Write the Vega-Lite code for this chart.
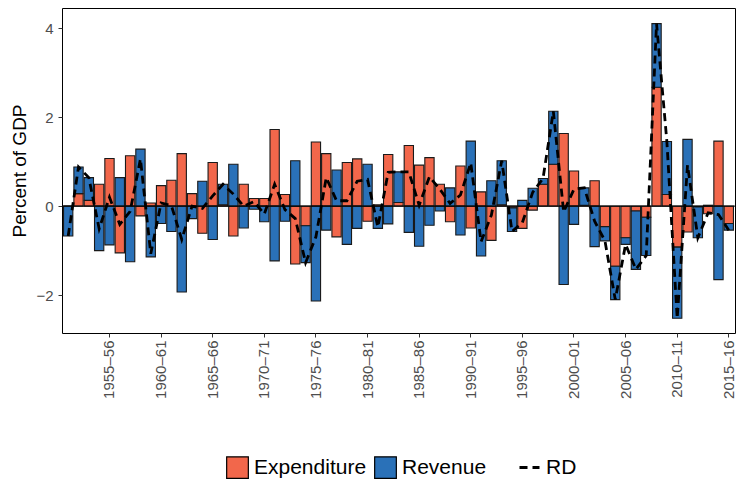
{
  "$schema": "https://vega.github.io/schema/vega-lite/v6.json",
  "width": 673,
  "height": 325,
  "autosize": {"type": "none"},
  "padding": {"left": 62, "top": 8, "right": 8, "bottom": 152},
  "config": {
    "font": "Liberation Sans",
    "view": {"stroke": "black", "strokeWidth": 1},
    "axis": {"grid": false, "domain": false, "tickColor": "#333333", "tickSize": 4, "labelColor": "#4D4D4D", "labelFontSize": 15, "titleColor": "black", "titleFontSize": 19, "titleFontWeight": "normal"}
  },
  "datasets": {
    "bars": [
      {"year": "1951–52", "type": "Expenditure", "value": 0.0}, {"year": "1951–52", "type": "Revenue", "value": -0.67},
      {"year": "1952–53", "type": "Expenditure", "value": 0.28}, {"year": "1952–53", "type": "Revenue", "value": 0.60},
      {"year": "1953–54", "type": "Expenditure", "value": 0.13}, {"year": "1953–54", "type": "Revenue", "value": 0.51},
      {"year": "1954–55", "type": "Expenditure", "value": 0.49}, {"year": "1954–55", "type": "Revenue", "value": -1.00},
      {"year": "1955–56", "type": "Expenditure", "value": 1.07}, {"year": "1955–56", "type": "Revenue", "value": -0.87},
      {"year": "1956–57", "type": "Expenditure", "value": -1.05}, {"year": "1956–57", "type": "Revenue", "value": 0.64},
      {"year": "1957–58", "type": "Expenditure", "value": 1.13}, {"year": "1957–58", "type": "Revenue", "value": -1.25},
      {"year": "1958–59", "type": "Expenditure", "value": -0.22}, {"year": "1958–59", "type": "Revenue", "value": 1.28},
      {"year": "1959–60", "type": "Expenditure", "value": 0.07}, {"year": "1959–60", "type": "Revenue", "value": -1.14},
      {"year": "1960–61", "type": "Expenditure", "value": 0.46}, {"year": "1960–61", "type": "Revenue", "value": -0.39},
      {"year": "1961–62", "type": "Expenditure", "value": 0.58}, {"year": "1961–62", "type": "Revenue", "value": -0.57},
      {"year": "1962–63", "type": "Expenditure", "value": 1.18}, {"year": "1962–63", "type": "Revenue", "value": -1.93},
      {"year": "1963–64", "type": "Expenditure", "value": 0.28}, {"year": "1963–64", "type": "Revenue", "value": -0.28},
      {"year": "1964–65", "type": "Expenditure", "value": -0.61}, {"year": "1964–65", "type": "Revenue", "value": 0.56},
      {"year": "1965–66", "type": "Expenditure", "value": 0.98}, {"year": "1965–66", "type": "Revenue", "value": -0.75},
      {"year": "1966–67", "type": "Expenditure", "value": 0.03}, {"year": "1966–67", "type": "Revenue", "value": 0.46},
      {"year": "1967–68", "type": "Expenditure", "value": -0.67}, {"year": "1967–68", "type": "Revenue", "value": 0.94},
      {"year": "1968–69", "type": "Expenditure", "value": 0.49}, {"year": "1968–69", "type": "Revenue", "value": -0.49},
      {"year": "1969–70", "type": "Expenditure", "value": 0.17}, {"year": "1969–70", "type": "Revenue", "value": -0.07},
      {"year": "1970–71", "type": "Expenditure", "value": 0.17}, {"year": "1970–71", "type": "Revenue", "value": -0.35},
      {"year": "1971–72", "type": "Expenditure", "value": 1.72}, {"year": "1971–72", "type": "Revenue", "value": -1.23},
      {"year": "1972–73", "type": "Expenditure", "value": 0.26}, {"year": "1972–73", "type": "Revenue", "value": -0.34},
      {"year": "1973–74", "type": "Expenditure", "value": -1.30}, {"year": "1973–74", "type": "Revenue", "value": 1.02},
      {"year": "1974–75", "type": "Expenditure", "value": -0.44}, {"year": "1974–75", "type": "Revenue", "value": -0.83},
      {"year": "1975–76", "type": "Expenditure", "value": 1.44}, {"year": "1975–76", "type": "Revenue", "value": -2.13},
      {"year": "1976–77", "type": "Expenditure", "value": 1.18}, {"year": "1976–77", "type": "Revenue", "value": -0.54},
      {"year": "1977–78", "type": "Expenditure", "value": -0.69}, {"year": "1977–78", "type": "Revenue", "value": 0.81},
      {"year": "1978–79", "type": "Expenditure", "value": 0.98}, {"year": "1978–79", "type": "Revenue", "value": -0.86},
      {"year": "1979–80", "type": "Expenditure", "value": 1.06}, {"year": "1979–80", "type": "Revenue", "value": -0.50},
      {"year": "1980–81", "type": "Expenditure", "value": -0.34}, {"year": "1980–81", "type": "Revenue", "value": 0.94},
      {"year": "1981–82", "type": "Expenditure", "value": 0.03}, {"year": "1981–82", "type": "Revenue", "value": -0.50},
      {"year": "1982–83", "type": "Expenditure", "value": 1.16}, {"year": "1982–83", "type": "Revenue", "value": -0.40},
      {"year": "1983–84", "type": "Expenditure", "value": 0.08}, {"year": "1983–84", "type": "Revenue", "value": 0.69},
      {"year": "1984–85", "type": "Expenditure", "value": 1.36}, {"year": "1984–85", "type": "Revenue", "value": -0.59},
      {"year": "1985–86", "type": "Expenditure", "value": 0.92}, {"year": "1985–86", "type": "Revenue", "value": -0.90},
      {"year": "1986–87", "type": "Expenditure", "value": 1.09}, {"year": "1986–87", "type": "Revenue", "value": -0.43},
      {"year": "1987–88", "type": "Expenditure", "value": 0.49}, {"year": "1987–88", "type": "Revenue", "value": -0.11},
      {"year": "1988–89", "type": "Expenditure", "value": -0.35}, {"year": "1988–89", "type": "Revenue", "value": 0.41},
      {"year": "1989–90", "type": "Expenditure", "value": 0.90}, {"year": "1989–90", "type": "Revenue", "value": -0.65},
      {"year": "1990–91", "type": "Expenditure", "value": -0.49}, {"year": "1990–91", "type": "Revenue", "value": 1.46},
      {"year": "1991–92", "type": "Expenditure", "value": 0.32}, {"year": "1991–92", "type": "Revenue", "value": -1.12},
      {"year": "1992–93", "type": "Expenditure", "value": -0.77}, {"year": "1992–93", "type": "Revenue", "value": 0.57},
      {"year": "1993–94", "type": "Expenditure", "value": 0.03}, {"year": "1993–94", "type": "Revenue", "value": 0.99},
      {"year": "1994–95", "type": "Expenditure", "value": -0.04}, {"year": "1994–95", "type": "Revenue", "value": -0.53},
      {"year": "1995–96", "type": "Expenditure", "value": -0.50}, {"year": "1995–96", "type": "Revenue", "value": 0.13},
      {"year": "1996–97", "type": "Expenditure", "value": -0.09}, {"year": "1996–97", "type": "Revenue", "value": 0.40},
      {"year": "1997–98", "type": "Expenditure", "value": 0.49}, {"year": "1997–98", "type": "Revenue", "value": 0.13},
      {"year": "1998–99", "type": "Expenditure", "value": 0.94}, {"year": "1998–99", "type": "Revenue", "value": 1.19},
      {"year": "1999–00", "type": "Expenditure", "value": 1.63}, {"year": "1999–00", "type": "Revenue", "value": -1.76},
      {"year": "2000–01", "type": "Expenditure", "value": 0.79}, {"year": "2000–01", "type": "Revenue", "value": -0.41},
      {"year": "2001–02", "type": "Expenditure", "value": 0.02}, {"year": "2001–02", "type": "Revenue", "value": 0.39},
      {"year": "2002–03", "type": "Expenditure", "value": 0.57}, {"year": "2002–03", "type": "Revenue", "value": -0.91},
      {"year": "2003–04", "type": "Expenditure", "value": -0.46}, {"year": "2003–04", "type": "Revenue", "value": -0.32},
      {"year": "2004–05", "type": "Expenditure", "value": -1.35}, {"year": "2004–05", "type": "Revenue", "value": -0.75},
      {"year": "2005–06", "type": "Expenditure", "value": -0.71}, {"year": "2005–06", "type": "Revenue", "value": -0.15},
      {"year": "2006–07", "type": "Expenditure", "value": -0.11}, {"year": "2006–07", "type": "Revenue", "value": -1.31},
      {"year": "2007–08", "type": "Expenditure", "value": -0.25}, {"year": "2007–08", "type": "Revenue", "value": -0.86},
      {"year": "2008–09", "type": "Expenditure", "value": 2.67}, {"year": "2008–09", "type": "Revenue", "value": 1.43},
      {"year": "2009–10", "type": "Expenditure", "value": 0.26}, {"year": "2009–10", "type": "Revenue", "value": 1.19},
      {"year": "2010–11", "type": "Expenditure", "value": -0.92}, {"year": "2010–11", "type": "Revenue", "value": -1.60},
      {"year": "2011–12", "type": "Expenditure", "value": -0.58}, {"year": "2011–12", "type": "Revenue", "value": 1.50},
      {"year": "2012–13", "type": "Expenditure", "value": -0.02}, {"year": "2012–13", "type": "Revenue", "value": -0.69},
      {"year": "2013–14", "type": "Expenditure", "value": -0.17}, {"year": "2013–14", "type": "Revenue", "value": 0.02},
      {"year": "2014–15", "type": "Expenditure", "value": 1.46}, {"year": "2014–15", "type": "Revenue", "value": -1.65},
      {"year": "2015–16", "type": "Expenditure", "value": -0.39}, {"year": "2015–16", "type": "Revenue", "value": -0.15}
    ],
    "rd": [
      {"year": "1951–52", "series": "RD", "value": -0.67}, {"year": "1952–53", "series": "RD", "value": 0.88},
      {"year": "1953–54", "series": "RD", "value": 0.64}, {"year": "1954–55", "series": "RD", "value": -0.51},
      {"year": "1955–56", "series": "RD", "value": 0.20}, {"year": "1956–57", "series": "RD", "value": -0.41},
      {"year": "1957–58", "series": "RD", "value": -0.12}, {"year": "1958–59", "series": "RD", "value": 1.06},
      {"year": "1959–60", "series": "RD", "value": -1.07}, {"year": "1960–61", "series": "RD", "value": 0.07},
      {"year": "1961–62", "series": "RD", "value": 0.01}, {"year": "1962–63", "series": "RD", "value": -0.75},
      {"year": "1963–64", "series": "RD", "value": 0.00}, {"year": "1964–65", "series": "RD", "value": -0.05},
      {"year": "1965–66", "series": "RD", "value": 0.23}, {"year": "1966–67", "series": "RD", "value": 0.49},
      {"year": "1967–68", "series": "RD", "value": 0.27}, {"year": "1968–69", "series": "RD", "value": 0.00},
      {"year": "1969–70", "series": "RD", "value": 0.10}, {"year": "1970–71", "series": "RD", "value": -0.18},
      {"year": "1971–72", "series": "RD", "value": 0.49}, {"year": "1972–73", "series": "RD", "value": -0.08},
      {"year": "1973–74", "series": "RD", "value": -0.28}, {"year": "1974–75", "series": "RD", "value": -1.27},
      {"year": "1975–76", "series": "RD", "value": -0.69}, {"year": "1976–77", "series": "RD", "value": 0.64},
      {"year": "1977–78", "series": "RD", "value": 0.12}, {"year": "1978–79", "series": "RD", "value": 0.12},
      {"year": "1979–80", "series": "RD", "value": 0.56}, {"year": "1980–81", "series": "RD", "value": 0.60},
      {"year": "1981–82", "series": "RD", "value": -0.47}, {"year": "1982–83", "series": "RD", "value": 0.76},
      {"year": "1983–84", "series": "RD", "value": 0.77}, {"year": "1984–85", "series": "RD", "value": 0.77},
      {"year": "1985–86", "series": "RD", "value": 0.02}, {"year": "1986–87", "series": "RD", "value": 0.66},
      {"year": "1987–88", "series": "RD", "value": 0.38}, {"year": "1988–89", "series": "RD", "value": 0.06},
      {"year": "1989–90", "series": "RD", "value": 0.25}, {"year": "1990–91", "series": "RD", "value": 0.97},
      {"year": "1991–92", "series": "RD", "value": -0.80}, {"year": "1992–93", "series": "RD", "value": -0.20},
      {"year": "1993–94", "series": "RD", "value": 1.02}, {"year": "1994–95", "series": "RD", "value": -0.57},
      {"year": "1995–96", "series": "RD", "value": -0.37}, {"year": "1996–97", "series": "RD", "value": 0.31},
      {"year": "1997–98", "series": "RD", "value": 0.62}, {"year": "1998–99", "series": "RD", "value": 2.13},
      {"year": "1999–00", "series": "RD", "value": -0.13}, {"year": "2000–01", "series": "RD", "value": 0.38},
      {"year": "2001–02", "series": "RD", "value": 0.41}, {"year": "2002–03", "series": "RD", "value": -0.34},
      {"year": "2003–04", "series": "RD", "value": -0.78}, {"year": "2004–05", "series": "RD", "value": -2.10},
      {"year": "2005–06", "series": "RD", "value": -0.86}, {"year": "2006–07", "series": "RD", "value": -1.42},
      {"year": "2007–08", "series": "RD", "value": -1.11}, {"year": "2008–09", "series": "RD", "value": 4.10},
      {"year": "2009–10", "series": "RD", "value": 1.45}, {"year": "2010–11", "series": "RD", "value": -2.52},
      {"year": "2011–12", "series": "RD", "value": 0.92}, {"year": "2012–13", "series": "RD", "value": -0.71},
      {"year": "2013–14", "series": "RD", "value": -0.15}, {"year": "2014–15", "series": "RD", "value": -0.19},
      {"year": "2015–16", "series": "RD", "value": -0.54}
    ]
  },
  "layer": [
    {
      "data": {"name": "bars"},
      "mark": {"type": "bar", "stroke": "#1a1a1a", "strokeWidth": 1.1},
      "encoding": {
        "x": {"field": "year", "type": "ordinal", "scale": {"paddingInner": 0.1, "paddingOuter": 0.15},
          "axis": {"title": null, "labelAngle": -90, "labelPadding": 3,
            "values": ["1955–56", "1960–61", "1965–66", "1970–71", "1975–76", "1980–81", "1985–86", "1990–91", "1995–96", "2000–01", "2005–06", "2010–11", "2015–16"]}},
        "y": {"field": "value", "type": "quantitative", "stack": "zero", "title": "Percent of GDP",
          "scale": {"domain": [-2.85, 4.45], "nice": false, "zero": false},
          "axis": {"values": [-2, 0, 2, 4], "labelPadding": 5, "titlePadding": 6}},
        "fill": {"field": "type", "type": "nominal",
          "scale": {"domain": ["Expenditure", "Revenue"], "range": ["#F2674B", "#2A71B8"]},
          "legend": {"orient": "none", "legendX": 164, "legendY": 448, "direction": "horizontal", "title": null,
            "symbolType": "square", "symbolSize": 470, "symbolStrokeColor": "black", "symbolStrokeWidth": 1.2,
            "labelFontSize": 21, "labelColor": "black", "labelOffset": 5, "columnPadding": 5, "padding": 0}},
        "order": {"field": "type"}
      }
    },
    {
      "data": {"values": [{}]},
      "mark": {"type": "rule", "color": "black", "strokeWidth": 1},
      "encoding": {"y": {"datum": 0, "title": "Percent of GDP"}}
    },
    {
      "data": {"name": "rd"},
      "mark": {"type": "line", "color": "black", "strokeWidth": 2.8},
      "encoding": {
        "x": {"field": "year", "type": "ordinal"},
        "y": {"field": "value", "type": "quantitative", "title": "Percent of GDP"},
        "strokeDash": {"field": "series", "type": "nominal",
          "scale": {"domain": ["RD"], "range": [[8, 5]]},
          "legend": {"orient": "none", "legendX": 456, "legendY": 448, "title": null,
            "symbolType": "stroke", "symbolSize": 400, "symbolStrokeColor": "black", "symbolStrokeWidth": 2.8,
            "labelFontSize": 21, "labelColor": "black", "labelOffset": 5, "padding": 0}}
      }
    }
  ]
}
